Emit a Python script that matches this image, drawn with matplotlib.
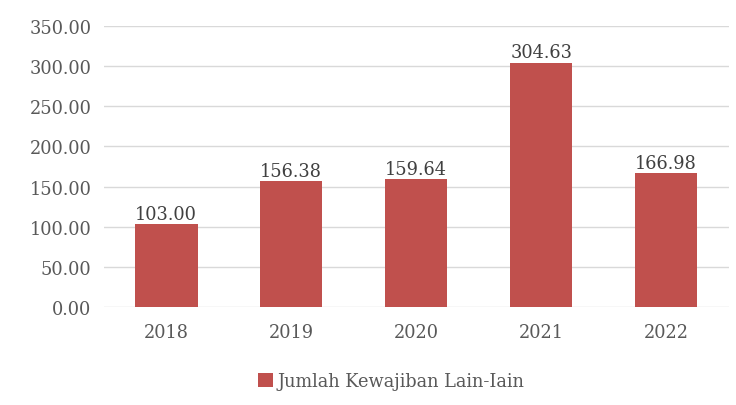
import matplotlib.pyplot as plt
from matplotlib.ticker import FormatStrFormatter

# data
years = ['2018', '2019', '2020', '2021', '2022']
values = [103.00, 156.38, 159.64, 304.63, 166.98]
series_name = 'Jumlah Kewajiban Lain-Iain'

bar_color = '#C0504D'
text_color = '#595959'

plt.rcParams['font.family'] = 'DejaVu Serif'

fig = plt.figure(figsize=(7.36, 4.06), dpi=100)
ax = fig.add_axes([0.141, 0.242, 0.849, 0.691])

bars = ax.bar(years, values, width=0.5, color=bar_color, label=series_name, zorder=3)

for b, v in zip(bars, values):
    ax.text(b.get_x() + b.get_width() / 2, v + 1.5, f'{v:.2f}',
            ha='center', va='bottom', fontsize=12.8, color='#404040')

ax.set_ylim(0, 350)
ax.set_yticks(range(0, 351, 50))
ax.yaxis.set_major_formatter(FormatStrFormatter('%.2f'))
ax.set_xlim(-0.5, 4.5)
ax.grid(axis='y', color='#D9D9D9', linewidth=1, zorder=0)
for s in ax.spines.values():
    s.set_visible(False)
ax.tick_params(length=0, labelsize=12.8, colors=text_color)
ax.tick_params(axis='y', pad=9)
ax.tick_params(axis='x', pad=12)

fig.legend(loc='center', bbox_to_anchor=(0.532, 0.058), frameon=False,
           fontsize=12.8, labelcolor=text_color, handlelength=0.8,
           handleheight=0.8, handletextpad=0.3)

fig.savefig('out.png', dpi=100)
